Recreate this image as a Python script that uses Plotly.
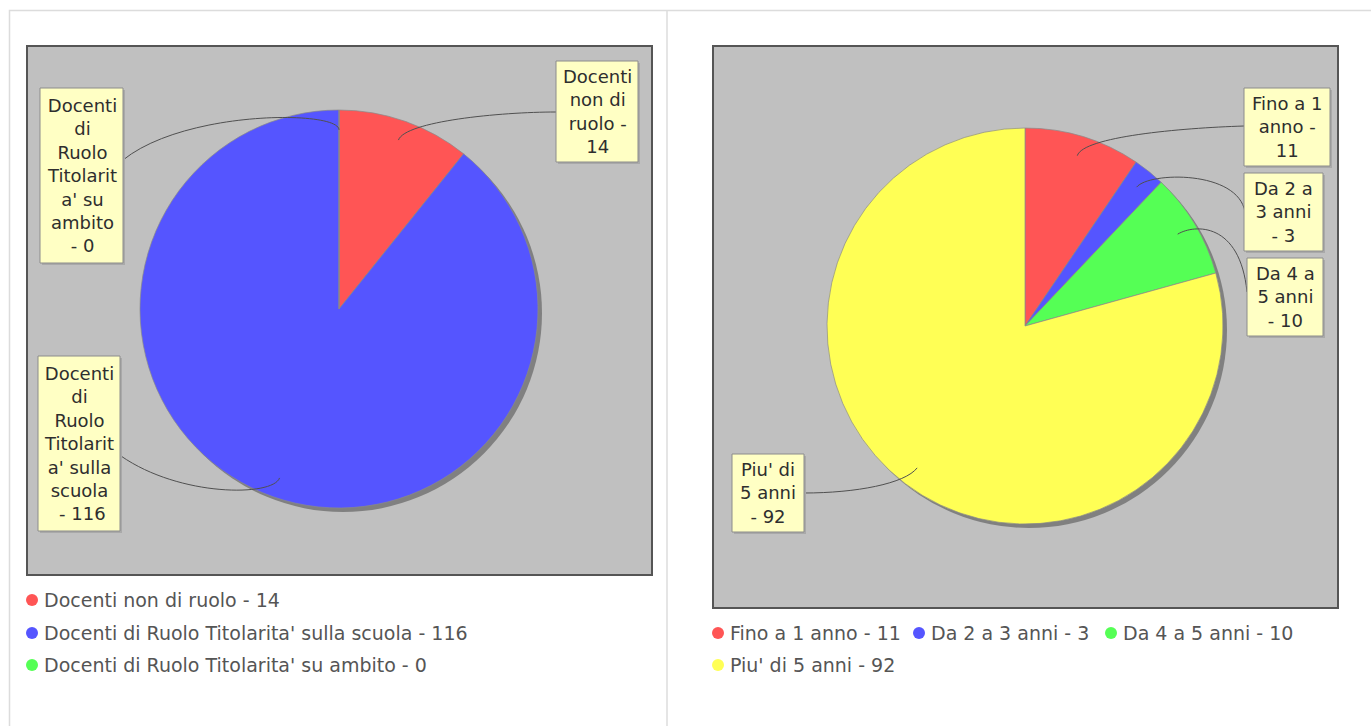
import math
import plotly.graph_objects as go

W, H = 1371, 726

# ---------------- data ----------------
left_labels = ["Docenti non di ruolo",
               "Docenti di Ruolo Titolarita' sulla scuola",
               "Docenti di Ruolo Titolarita' su ambito"]
left_values = [14, 116, 0]
left_wrapped = [["Docenti", "non di", "ruolo -", "14"],
                ["Docenti", "di", "Ruolo", "Titolarit", "a' sulla", "scuola", " - 116"],
                ["Docenti", "di", "Ruolo", "Titolarit", "a' su", "ambito", "- 0"]]

right_labels = ["Fino a 1 anno", "Da 2 a 3 anni", "Da 4 a 5 anni", "Piu' di 5 anni"]
right_values = [11, 3, 10, 92]
right_wrapped = [["Fino a 1", "anno -", "11"],
                 ["Da 2 a", "3 anni", "- 3"],
                 ["Da 4 a", "5 anni", "- 10"],
                 ["Piu' di", "5 anni", "- 92"]]

colors = ["#FF5555", "#5555FF", "#55FF55", "#FFFF55"]

# ---------------- layout (pixels) ----------------
panels = [
    dict(labels=left_labels, values=left_values, wrapped=left_wrapped,
         box=(27, 46, 652, 575), cx=339, cy=309, r=199,
         lboxes=[(556, 61, 638, 162), (38, 356, 120, 531), (40, 88, 123, 263)],
         ends=[(556, 112), (121, 456), (123, 160)],
         c2=[(500, 112), (180, 497), (185, 110)],
         legend=[(32, 600), (32, 633), (32, 665)]),
    dict(labels=right_labels, values=right_values, wrapped=right_wrapped,
         box=(713, 46, 1338, 608), cx=1025, cy=326, r=198,
         lboxes=[(1244, 88, 1330, 166), (1244, 173, 1323, 251),
                 (1247, 258, 1323, 336), (732, 454, 804, 532)],
         ends=[(1244, 126), (1245, 212), (1247, 292), (804, 493)],
         c2=[(1180, 128), (1238, 170), (1240, 222), (856, 493)],
         legend=[(718, 633), (919, 633), (1111, 633), (718, 665)]),
]

FONT = "DejaVu Sans"


def px_dom(cx, cy, r):
    return dict(x=[(cx - r) / W, (cx + r) / W],
                y=[1 - (cy + r) / H, 1 - (cy - r) / H])


fig = go.Figure()
shapes = []
annotations = []

# page frame and separator
shapes.append(dict(type="rect", x0=9.5, y0=10.5, x1=W + 5, y1=H + 5,
                   line=dict(color="#DCDCDC", width=1.5), layer="below"))
shapes.append(dict(type="line", x0=667, y0=10.5, x1=667, y1=H,
                   line=dict(color="#DCDCDC", width=1.5), layer="below"))

for p in panels:
    x0, y0, x1, y1 = p["box"]
    shapes.append(dict(type="rect", x0=x0, y0=y0, x1=x1, y1=y1,
                       fillcolor="#C0C0C0", line=dict(color="#555555", width=2),
                       layer="below"))
    n = len(p["values"])
    cols = colors[:n]
    # shadow
    fig.add_trace(go.Pie(values=[1], marker=dict(colors=["#808080"]),
                         domain=px_dom(p["cx"] + 4, p["cy"] + 4, p["r"]),
                         textinfo="none", hoverinfo="skip", showlegend=False,
                         sort=False))
    fig.add_trace(go.Pie(labels=p["labels"], values=p["values"],
                         marker=dict(colors=cols, line=dict(color="#8A8A8A", width=0.7)),
                         domain=px_dom(p["cx"], p["cy"], p["r"]),
                         textinfo="none", hoverinfo="label+value", showlegend=False,
                         sort=False, direction="clockwise", rotation=0))
    total = sum(p["values"])
    cum = 0
    for i, v in enumerate(p["values"]):
        ang = 2 * math.pi * (cum + v / 2) / total
        cum += v
        dx, dy = math.sin(ang), -math.cos(ang)
        ax, ay = p["cx"] + 0.9 * p["r"] * dx, p["cy"] + 0.9 * p["r"] * dy
        c1x, c1y = p["cx"] + 1.0 * p["r"] * dx, p["cy"] + 1.0 * p["r"] * dy
        c2x, c2y = p["c2"][i]
        ex, ey = p["ends"][i]
        shapes.append(dict(type="path",
                           path=f"M {ax},{ay} C {c1x},{c1y} {c2x},{c2y} {ex},{ey}",
                           line=dict(color="#505050", width=1)))
        bx0, by0, bx1, by1 = p["lboxes"][i]
        shapes.append(dict(type="rect", x0=bx0 + 2, y0=by0 + 2, x1=bx1 + 2, y1=by1 + 2,
                           fillcolor="#A9A9A9", line=dict(width=0)))
        shapes.append(dict(type="rect", x0=bx0, y0=by0, x1=bx1, y1=by1,
                           fillcolor="#FFFFC4", line=dict(color="#8C8C8C", width=1)))
        annotations.append(dict(x=(bx0 + bx1) / 2, y=(by0 + by1) / 2,
                                xref="x", yref="y", showarrow=False,
                                text="<br>".join(p["wrapped"][i]), align="center",
                                xanchor="center", yanchor="middle",
                                font=dict(family=FONT, size=18, color="#2E2E2E")))
        lx, ly = p["legend"][i]
        annotations.append(dict(x=lx + 10, y=ly, xref="x", yref="y", showarrow=False,
                                text=f"{p['labels'][i]} - {v}",
                                xanchor="left", yanchor="middle",
                                font=dict(family=FONT, size=19, color="#555555")))
    fig.add_trace(go.Scatter(x=[pt[0] for pt in p["legend"]],
                             y=[pt[1] for pt in p["legend"]],
                             mode="markers", hoverinfo="skip", showlegend=False,
                             marker=dict(size=12, color=cols, line=dict(width=0))))

fig.update_layout(
    width=W, height=H, margin=dict(l=0, r=0, t=0, b=0),
    paper_bgcolor="white", plot_bgcolor="rgba(0,0,0,0)",
    xaxis=dict(range=[0, W], visible=False, fixedrange=True, domain=[0, 1]),
    yaxis=dict(range=[H, 0], visible=False, fixedrange=True, domain=[0, 1]),
    shapes=shapes, annotations=annotations, showlegend=False,
)

fig.write_html("out.html", config={"displayModeBar": False},
               post_script="document.body.style.margin='0px';document.body.style.overflow='hidden';")
